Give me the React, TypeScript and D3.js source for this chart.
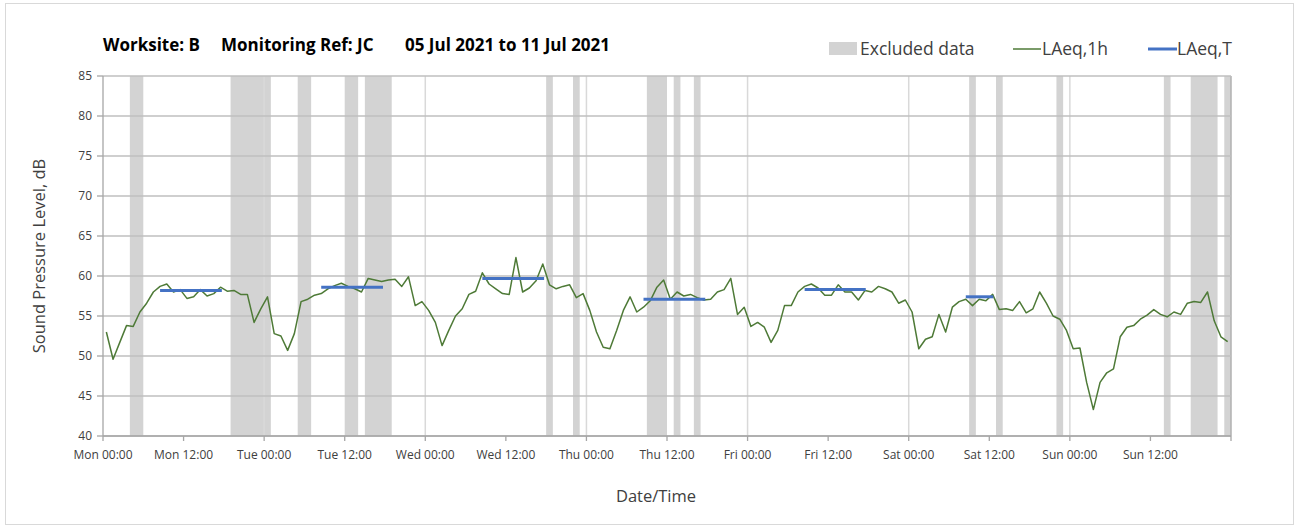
import React from "react";
import * as d3 from "d3";

// ---- Data ----
const laeq1h: number[] = [
  53.0, 49.6, 51.7, 53.8, 53.7, 55.5, 56.6, 58.0, 58.7, 59.0, 58.0, 58.3, 57.2, 57.4, 58.3, 57.5, 57.8, 58.6, 58.1, 58.2, 57.7, 57.7, 54.2, 55.9,
  57.4, 52.8, 52.5, 50.7, 52.8, 56.8, 57.1, 57.6, 57.8, 58.4, 58.8, 59.1, 58.7, 58.4, 58.0, 59.7, 59.5, 59.3, 59.5, 59.6, 58.7, 59.9, 56.3, 56.8,
  55.7, 54.2, 51.3, 53.2, 55.0, 55.9, 57.7, 58.1, 60.4, 59.0, 58.4, 57.8, 57.7, 62.3, 58.0, 58.5, 59.4, 61.5, 58.9, 58.4, 58.7, 58.9, 57.3, 57.8,
  55.7, 53.0, 51.1, 50.9, 53.2, 55.7, 57.4, 55.5, 56.1, 56.9, 58.6, 59.5, 57.1, 58.0, 57.5, 57.7, 57.3, 57.0, 57.1, 58.0, 58.3, 59.7, 55.2, 56.1,
  53.7, 54.2, 53.6, 51.7, 53.2, 56.3, 56.3, 58.0, 58.7, 59.0, 58.5, 57.6, 57.6, 58.9, 58.0, 58.0, 57.0, 58.2, 58.0, 58.7, 58.4, 58.0, 56.6, 57.0,
  55.5, 50.9, 52.1, 52.4, 55.2, 53.0, 56.1, 56.8, 57.1, 56.3, 57.1, 56.9, 57.7, 55.8, 55.9, 55.7, 56.8, 55.4, 55.9, 58.0, 56.6, 55.0, 54.6, 53.2,
  50.9, 51.0, 46.7, 43.3, 46.7, 47.9, 48.4, 52.4, 53.6, 53.8, 54.6, 55.1, 55.8, 55.2, 54.9, 55.5, 55.2, 56.6, 56.8, 56.7, 58.0, 54.4, 52.4, 51.8,
];

// excluded periods, hours from Mon 00:00
const excludedStart: number[] = [4, 19, 29, 36, 39, 66, 70, 81, 85, 88, 129, 133, 142, 158, 162, 167];
const excludedEnd: number[] = [6, 25, 31, 38, 43, 67, 71, 84, 86, 89, 130, 134, 143, 159, 166, 168];

// LAeq,T periods
const laeqTStart: number[] = [8.5, 32.5, 56.5, 80.5, 104.5, 128.5];
const laeqTEnd: number[] = [17.7, 41.7, 65.7, 89.7, 113.6, 132.6];
const laeqTValue: number[] = [58.2, 58.6, 59.7, 57.1, 58.3, 57.4];

const days: string[] = ["Mon", "Tue", "Wed", "Thu", "Fri", "Sat", "Sun"];
const xTickHours: number[] = d3.range(0, 168, 12);
const xTickLabels: string[] = xTickHours.map((h) => `${days[Math.floor(h / 24)]} ${h % 24 === 0 ? "00:00" : "12:00"}`);
const yTicks: number[] = [40, 45, 50, 55, 60, 65, 70, 75, 80, 85];

const FONT = "'Open Sans', 'Noto Sans', sans-serif";

export default function App() {
  const W = 1301;
  const H = 529;
  const x = d3.scaleLinear().domain([0, 168]).range([103, 1231]);
  const y = d3.scaleLinear().domain([40, 85]).range([436, 76]);

  const line = d3
    .line<number>()
    .x((_, i) => x(i + 0.5))
    .y((d) => y(d));

  return (
    <svg width={W} height={H} style={{ position: "absolute", left: 0, top: 0 }}>
      <rect x={0} y={0} width={W} height={H} fill="#fff" />
      <rect x={5.5} y={3.5} width={1288} height={521} fill="#fff" stroke="#d9d9d9" strokeWidth={1} />

      {/* excluded bands */}
      {excludedStart.map((s, i) => (
        <rect key={"ex" + i} x={x(s)} y={y(85)} width={x(excludedEnd[i]) - x(s)} height={y(40) - y(85)} fill="#d3d3d3" />
      ))}

      {/* vertical day gridlines */}
      {d3.range(24, 168, 24).map((h) => (
        <line key={"vg" + h} x1={x(h)} x2={x(h)} y1={y(85)} y2={y(40)} stroke="#d9d9d9" strokeWidth={1.5} />
      ))}
      <line x1={x(168)} x2={x(168)} y1={y(85)} y2={y(40)} stroke="#b0b0b0" strokeWidth={1.5} />

      {/* horizontal gridlines */}
      {yTicks.map((t) => (
        <line key={"hg" + t} x1={x(0)} x2={x(168)} y1={y(t)} y2={y(t)} stroke="#bfbfbf" strokeWidth={1.3} />
      ))}

      {/* axes */}
      <line x1={x(0)} x2={x(0)} y1={y(85)} y2={y(40)} stroke="#a6a6a6" strokeWidth={1.3} />
      <line x1={x(0)} x2={x(168)} y1={y(40)} y2={y(40)} stroke="#a6a6a6" strokeWidth={1.3} />
      {yTicks.map((t) => (
        <g key={"yt" + t}>
          <line x1={x(0) - 6} x2={x(0)} y1={y(t)} y2={y(t)} stroke="#a6a6a6" strokeWidth={1.3} />
          <text x={92} y={y(t) + 4} textAnchor="end" fontFamily={FONT} fontSize={12} fill="#404040">
            {t}
          </text>
        </g>
      ))}
      {xTickHours.concat([168]).map((h) => (
        <line key={"xt" + h} x1={x(h)} x2={x(h)} y1={y(40)} y2={y(40) + 5} stroke="#a6a6a6" strokeWidth={1.3} />
      ))}
      {xTickHours.map((h, i) => (
        <text key={"xl" + h} x={x(h)} y={459} textAnchor="middle" fontFamily={FONT} fontSize={12} fill="#404040">
          {xTickLabels[i]}
        </text>
      ))}

      {/* LAeq,1h */}
      <path d={line(laeq1h) || ""} fill="none" stroke="#4e7a37" strokeWidth={1.5} strokeLinejoin="round" />

      {/* LAeq,T */}
      {laeqTStart.map((s, i) => (
        <line key={"lt" + i} x1={x(s)} x2={x(laeqTEnd[i])} y1={y(laeqTValue[i])} y2={y(laeqTValue[i])} stroke="#4472c4" strokeWidth={3} />
      ))}

      {/* title */}
      <text y={51} fontFamily={FONT} fontSize={17} fontWeight="bold" fill="#000">
        <tspan x={103}>Worksite: B</tspan>
        <tspan x={221}>Monitoring Ref: JC</tspan>
        <tspan x={405}>05 Jul 2021 to 11 Jul 2021</tspan>
      </text>

      {/* legend */}
      <rect x={829} y={42} width={28} height={13} fill="#d3d3d3" />
      <text x={860} y={55} fontFamily={FONT} fontSize={17.5} fill="#404040">Excluded data</text>
      <line x1={1013} x2={1041} y1={49} y2={49} stroke="#4e7a37" strokeWidth={1.5} />
      <text x={1042} y={55} fontFamily={FONT} fontSize={17.5} fill="#404040">LAeq,1h</text>
      <line x1={1148} x2={1177} y1={49} y2={49} stroke="#4472c4" strokeWidth={3} />
      <text x={1177} y={55} fontFamily={FONT} fontSize={17.5} fill="#404040">LAeq,T</text>

      {/* axis titles */}
      <text transform={`translate(45,${(y(85) + y(40)) / 2}) rotate(-90)`} textAnchor="middle" fontFamily={FONT} fontSize={16.5} fill="#404040">
        Sound Pressure Level, dB
      </text>
      <text x={656} y={502} textAnchor="middle" fontFamily={FONT} fontSize={16.5} fill="#404040">
        Date/Time
      </text>
    </svg>
  );
}
